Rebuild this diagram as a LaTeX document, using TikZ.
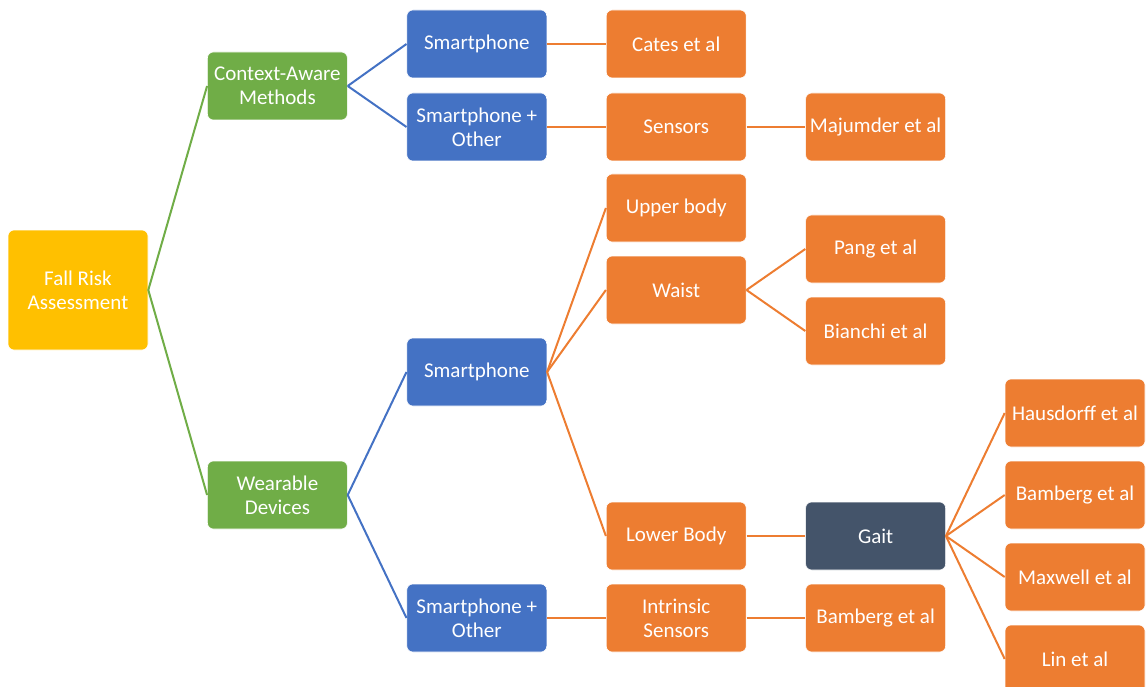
\documentclass[tikz,border=0pt]{standalone}
\usepackage{fontspec}
\setmainfont{Carlito}
\usetikzlibrary{positioning}
\definecolor{riskgold}{HTML}{FFC000}
\definecolor{groupgreen}{HTML}{70AD47}
\definecolor{devblue}{HTML}{4472C4}
\definecolor{leaforange}{HTML}{ED7D31}
\definecolor{gaitslate}{HTML}{44546A}

\begin{document}
\begin{tikzpicture}[
        x=1pt, y=1pt,
        node distance=58.8pt and 58.8pt,
        every node/.style={draw=white, line width=.6pt, rounded corners=6pt, text=white, align=center,
          minimum width=140pt, minimum height=68pt, inner sep=2pt, font=\fontsize{21}{24}\selectfont},
        rootbox/.style={fill=riskgold, minimum height=120pt},
        groupbox/.style={fill=groupgreen},
        devbox/.style={fill=devblue},
        leafbox/.style={fill=leaforange},
        gaitbox/.style={fill=gaitslate},
        link/.style={line width=2pt}
    ]
  \useasboundingbox (0,0) rectangle (1148,-687);
  \clip (0,0) rectangle (1148,-687);

  % Nodes
  \node (root) [rootbox] at (78,-290) {Fall Risk\\Assessment};
  \node (ctx) [groupbox, right=of root, yshift=204pt] {Context-Aware\\Methods};
  \node (wear) [groupbox, right=of root, yshift=-205pt] {Wearable\\Devices};

  \node (ctxphone) [devbox, right=of ctx, yshift=42pt] {Smartphone};
  \node (ctxother) [devbox, right=of ctx, yshift=-41pt] {Smartphone +\\Other};
  \node (cates) [leafbox, right=of ctxphone] {Cates et al};
  \node (sensors) [leafbox, right=of ctxother] {Sensors};
  \node (majumder) [leafbox, right=of sensors] {Majumder et al};

  \node (wearphone) [devbox, right=of wear, yshift=123pt] {Smartphone};
  \node (wearother) [devbox, right=of wear, yshift=-123pt] {Smartphone +\\Other};
  \node (upper) [leafbox, right=of wearphone, yshift=164pt] {Upper body};
  \node (waist) [leafbox, right=of wearphone, yshift=82pt] {Waist};
  \node (lower) [leafbox, right=of wearphone, yshift=-164pt] {Lower Body};
  \node (pang) [leafbox, right=of waist, yshift=41pt] {Pang et al};
  \node (bianchi) [leafbox, right=of waist, yshift=-41pt] {Bianchi et al};
  \node (gait) [gaitbox, right=of lower] {Gait};
  \node (hausdorff) [leafbox, right=of gait, yshift=123pt] {Hausdorff et al};
  \node (bambergA) [leafbox, right=of gait, yshift=41pt] {Bamberg et al};
  \node (maxwell) [leafbox, right=of gait, yshift=-41pt] {Maxwell et al};
  \node (lin) [leafbox, right=of gait, yshift=-123pt] {Lin et al};
  \node (intrinsic) [leafbox, right=of wearother] {Intrinsic\\Sensors};
  \node (bambergB) [leafbox, right=of intrinsic] {Bamberg et al};

  % Connectors
  \draw[link, groupgreen] (root.east) -- (ctx.west);
  \draw[link, groupgreen] (root.east) -- (wear.west);
  \draw[link, devblue] (ctx.east) -- (ctxphone.west);
  \draw[link, devblue] (ctx.east) -- (ctxother.west);
  \draw[link, devblue] (wear.east) -- (wearphone.west);
  \draw[link, devblue] (wear.east) -- (wearother.west);
  \draw[link, leaforange] (ctxphone.east) -- (cates.west);
  \draw[link, leaforange] (ctxother.east) -- (sensors.west);
  \draw[link, leaforange] (sensors.east) -- (majumder.west);
  \draw[link, leaforange] (wearphone.east) -- (upper.west);
  \draw[link, leaforange] (wearphone.east) -- (waist.west);
  \draw[link, leaforange] (wearphone.east) -- (lower.west);
  \draw[link, leaforange] (waist.east) -- (pang.west);
  \draw[link, leaforange] (waist.east) -- (bianchi.west);
  \draw[link, leaforange] (lower.east) -- (gait.west);
  \draw[link, leaforange] (gait.east) -- (hausdorff.west);
  \draw[link, leaforange] (gait.east) -- (bambergA.west);
  \draw[link, leaforange] (gait.east) -- (maxwell.west);
  \draw[link, leaforange] (gait.east) -- (lin.west);
  \draw[link, leaforange] (wearother.east) -- (intrinsic.west);
  \draw[link, leaforange] (intrinsic.east) -- (bambergB.west);
\end{tikzpicture}
\end{document}
